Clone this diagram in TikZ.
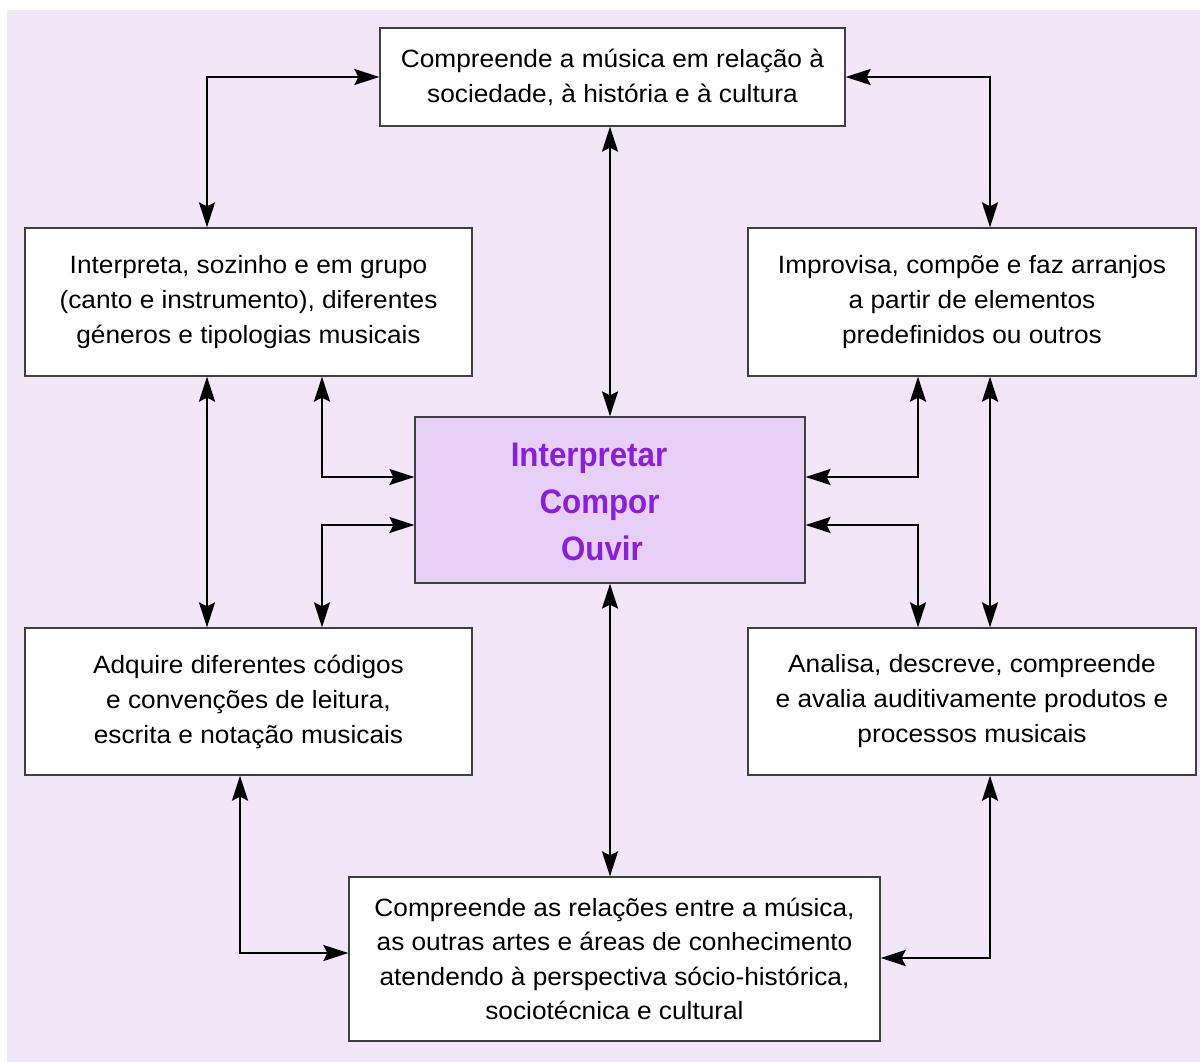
\documentclass[tikz,border=0pt]{standalone}
\usepackage{fontspec}
\setmainfont{Liberation Sans}
\newfontfamily\boxfont[FakeStretch=1.05]{Liberation Sans}
\newfontfamily\hubfont[FakeStretch=0.92]{Liberation Sans}
\usetikzlibrary{arrows.meta}

\definecolor{bgpurple}{HTML}{F2E6F8}
\definecolor{hubfill}{HTML}{E6D0F5}
\definecolor{hubtext}{HTML}{8A1EDC}
\definecolor{boxline}{HTML}{404040}

\tikzset{
    box/.style={draw=boxline, line width=1.3pt, fill=white, inner sep=0pt,
        align=center, font=\boxfont\fontsize{25}{35}\selectfont},
    link/.style={line width=2.2pt, {Stealth[length=25pt,width=16pt,inset=4pt]}-{Stealth[length=25pt,width=16pt,inset=4pt]}}
}

\begin{document}
\begin{tikzpicture}[x=1pt, y=-1pt]
        % Page size and background
        \useasboundingbox (0, 0) rectangle (1200, 1062);
        \fill[bgpurple] (7, 10) rectangle (1200, 1062);

        % Central box
        \node[draw=boxline, line width=1.2pt, fill=hubfill, minimum width=390pt, minimum height=166pt] (hub) at (610, 500) {};
        \node[align=center, text=hubtext, font=\hubfont\fontsize{34}{47}\selectfont\bfseries] (hubtxt) at (589, 502)
            {Interpretar\\\hspace*{21pt}Compor\\\hspace*{26pt}Ouvir};

        % Outer boxes
        \node[box, minimum width=465pt, minimum height=98pt] (top) at (612.5, 77)
            {Compreende a música em relação à\\sociedade, à história e à cultura};
        \node[box, minimum width=447pt, minimum height=148pt] (interp) at (248.5, 302)
            {Interpreta, sozinho e em grupo\\(canto e instrumento), diferentes\\géneros e tipologias musicais};
        \node[box, minimum width=448pt, minimum height=148pt] (improv) at (972, 302)
            {Improvisa, compõe e faz arranjos\\a partir de elementos\\predefinidos ou outros};
        \node[box, minimum width=447pt, minimum height=147pt] (adquire) at (248.5, 701.5)
            {Adquire diferentes códigos\\e convenções de leitura,\\escrita e notação musicais};
        \node[box, minimum width=448pt, minimum height=147pt] (analisa) at (972, 701.5)
            {Analisa, descreve, compreende\\e avalia auditivamente produtos e\\processos musicais};
        \node[box, font=\boxfont\fontsize{25}{34.5}\selectfont, minimum width=531pt, minimum height=164pt] (bottom) at (614.5, 959)
            {Compreende as relações entre a música,\\as outras artes e áreas de conhecimento\\atendendo à perspectiva sócio-histórica,\\sociotécnica e cultural};

        % Arrows from the top box
        \draw[link] (top.west) -| ([xshift=-41.5pt]interp.north);
        \draw[link] (top.east) -| ([xshift=18pt]improv.north);
        \draw[link] (hub.north |- top.south) -- (hub.north);

        % Arrows down the sides
        \draw[link] ([xshift=-41.5pt]interp.south) -- ([xshift=-41.5pt]adquire.north);
        \draw[link] ([xshift=18pt]improv.south) -- ([xshift=18pt]analisa.north);

        % Arrows into the central box
        \draw[link] ([xshift=73.5pt]interp.south) |- ([yshift=23pt]hub.west);
        \draw[link] ([xshift=73.5pt]adquire.north) |- ([yshift=-25pt]hub.west);
        \draw[link] ([xshift=-54pt]improv.south) |- ([yshift=23pt]hub.east);
        \draw[link] ([xshift=-54pt]analisa.north) |- ([yshift=-25pt]hub.east);

        % Arrows to the bottom box
        \draw[link] (hub.south) -- (hub.south |- bottom.north);
        \draw[link] ([xshift=-8.5pt]adquire.south) |- ([yshift=6pt]bottom.west);
        \draw[link] ([xshift=18pt]analisa.south) |- ([yshift=1pt]bottom.east);
    \end{tikzpicture}
\end{document}
